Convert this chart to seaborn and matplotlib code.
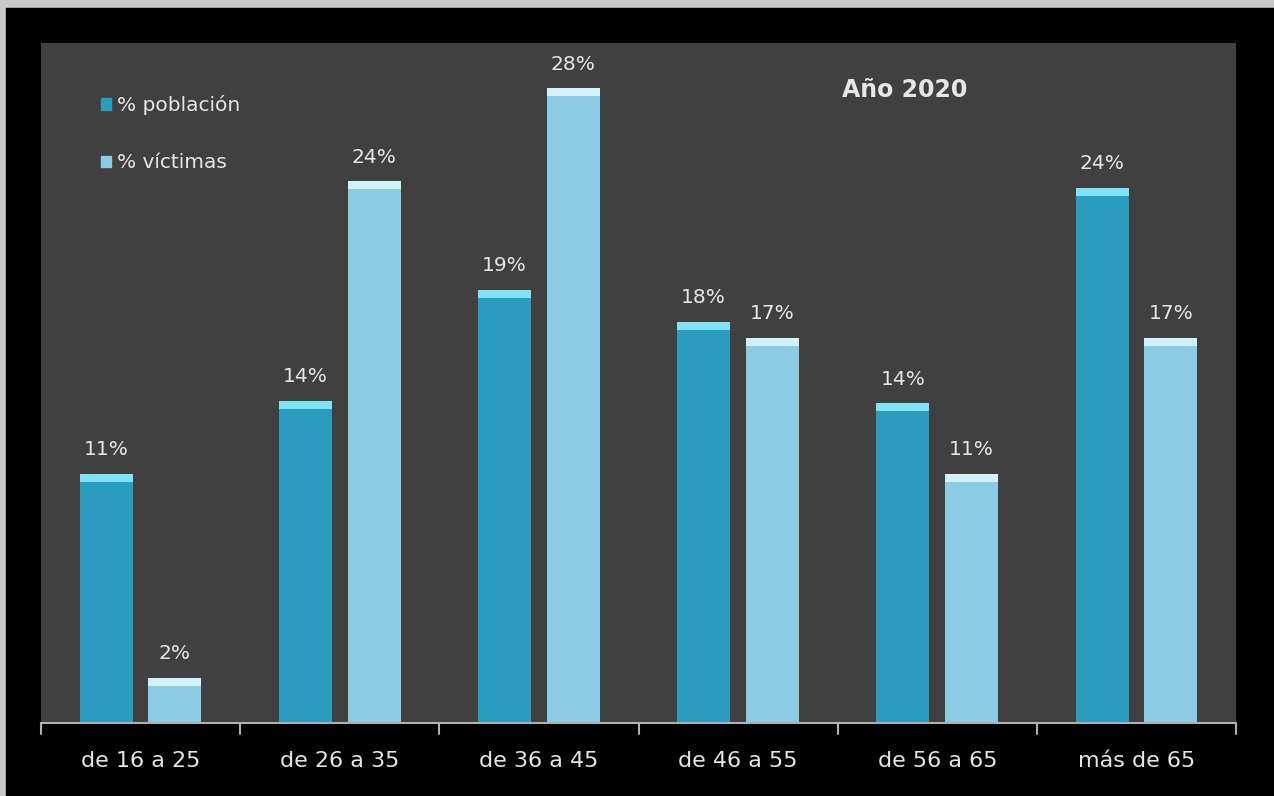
import numpy as np
import pandas as pd
import matplotlib.pyplot as plt
import matplotlib.patches as mpatches
import seaborn as sns

# datos
grupos = ['de 16 a 25', 'de 26 a 35', 'de 36 a 45', 'de 46 a 55', 'de 56 a 65', 'más de 65']
poblacion = [11.0, 14.2, 19.1, 17.7, 14.1, 23.6]
victimas = [2.0, 23.9, 28.0, 17.0, 11.0, 17.0]
series = ['% población', '% víctimas']
titulo = 'Año 2020'

sns.set_theme(style="dark")
plt.rcParams['font.family'] = ['DejaVu Sans']

df = pd.DataFrame({'grupo': grupos * 2,
                   'serie': [series[0]] * 6 + [series[1]] * 6,
                   'valor': poblacion + victimas})

col_pob = '#2a9cbd'
col_vic = '#8ccbe4'
cap_pob = '#7fe3f5'
cap_vic = '#d2f2fb'
txt = '#e6e6e6'

fig = plt.figure(figsize=(12.74, 7.96), dpi=100, facecolor='#c8c8c8')
# marco negro
fig.patches.append(mpatches.Rectangle((6 / 1274, 0), 1 - 6 / 1274, 1 - 8 / 796,
                                      transform=fig.transFigure, color='black', zorder=-10))

ax = fig.add_axes([41 / 1274, (796 - 723) / 796, 1195 / 1274, (723 - 43) / 796])
ax.set_facecolor('#404040')

sns.barplot(data=df, x='grupo', y='valor', hue='serie', palette=[col_pob, col_vic],
            width=0.69, gap=0.23, ax=ax, legend=False, saturation=1, linewidth=0)

# tapa clara en la parte superior de cada barra
for i, p in enumerate(list(ax.patches)):
    h = p.get_height()
    cap = cap_pob if i < len(grupos) else cap_vic
    ax.add_patch(mpatches.Rectangle((p.get_x(), h - 0.35), p.get_width(), 0.35,
                                    color=cap, lw=0, zorder=3))
    ax.text(p.get_x() + p.get_width() / 2, h + 0.65, f'{h:.0f}%', ha='center', va='bottom',
            fontsize=14.5, color=txt)

ax.set_xlim(-0.5, len(grupos) - 0.5)
ax.set_ylim(0, 30)
ax.set_yticks([])
ax.set_xlabel('')
ax.set_ylabel('')
ax.tick_params(axis='x', length=0, pad=20, labelsize=16, labelcolor=txt)
for s in ['top', 'right', 'left']:
    ax.spines[s].set_visible(False)
ax.spines['bottom'].set_color('#b0b0b0')
ax.spines['bottom'].set_linewidth(1.5)
for b in np.arange(-0.5, len(grupos), 1.0):
    ax.plot([b, b], [0, -0.5], color='#b0b0b0', lw=1.5, clip_on=False)

# leyenda
handles = [mpatches.Patch(color=c) for c in [col_pob, col_vic]]
leg = ax.legend(handles, series, loc='upper left', bbox_to_anchor=(0.035, 0.95),
                frameon=False, fontsize=14.5, labelspacing=1.9, handlelength=0.5,
                handleheight=0.5, handletextpad=0.3)
for t in leg.get_texts():
    t.set_color(txt)

ax.text(0.723, 0.931, titulo, transform=ax.transAxes, fontsize=17, fontweight='bold',
        color=txt, ha='center', va='center')

fig.savefig('out.png', dpi=100, facecolor=fig.get_facecolor())
